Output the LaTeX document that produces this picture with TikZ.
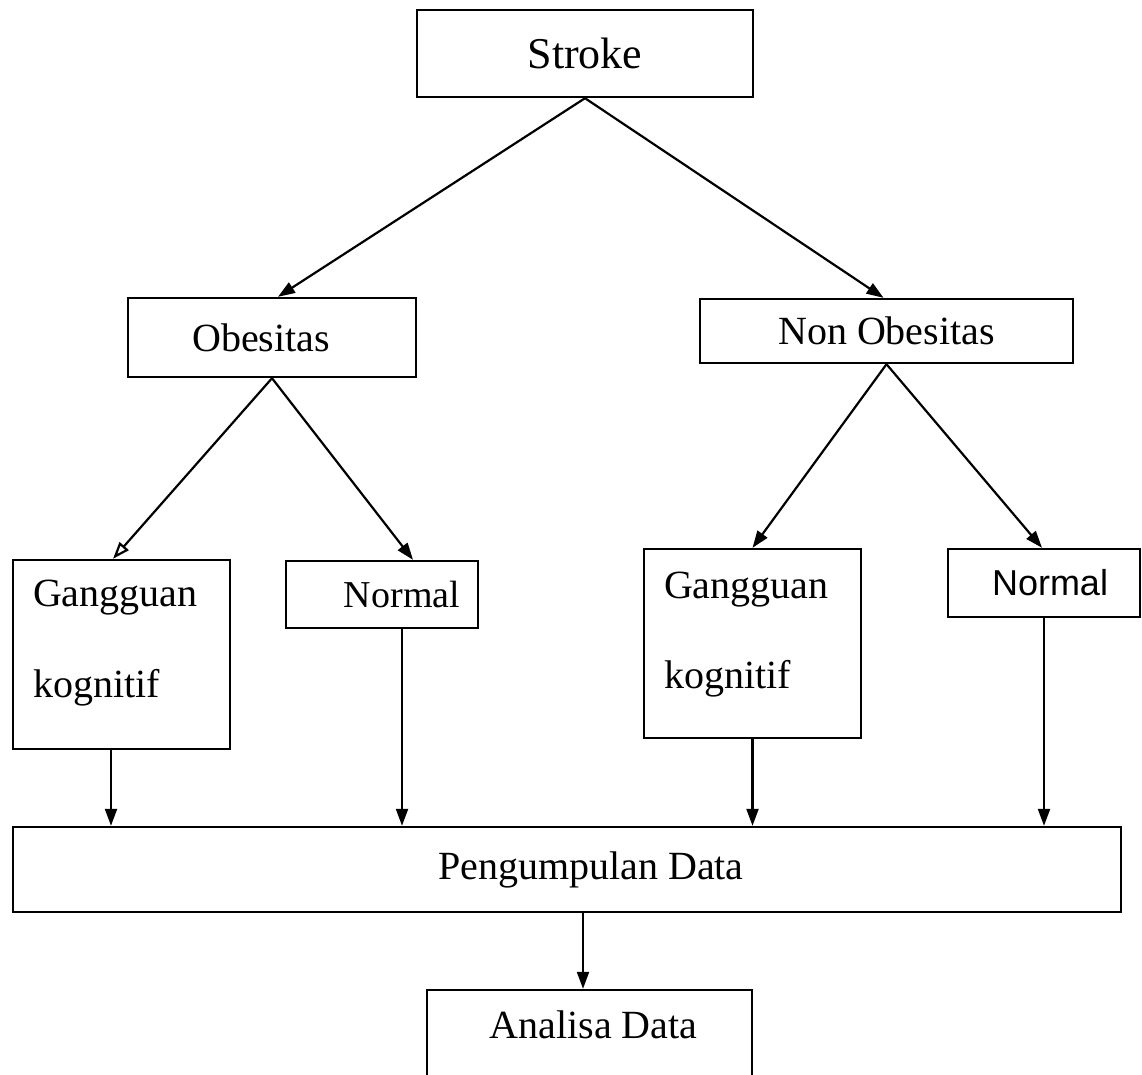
\documentclass[tikz,border=0pt]{standalone}
\usepackage{fontspec}
\setmainfont{Liberation Serif}
\newfontfamily\armfont{Liberation Sans}
\usetikzlibrary{arrows.meta}

\begin{document}
\begin{tikzpicture}[
  x=1pt, y=-1pt,
  >={Triangle[length=17pt, width=12pt]},
  box/.style={draw=black, line width=2.4pt, inner sep=0pt, align=center,
              font=\fontsize{40}{48}\selectfont},
  tallbox/.style={box, inner xsep=20pt, minimum width=217pt, minimum height=189pt},
  link/.style={->, line width=2.2pt, draw=black},
]
\clip (0,0) rectangle (1142,1074);
\fill[white] (0,0) rectangle (1142,1074);

% ---- top: stroke and the two groups ----
\node[box, minimum width=336pt, minimum height=87pt, font=\fontsize{44}{52}\selectfont]
      (stroke) at (585,53.5) {Stroke};
\node[box, minimum width=288pt, minimum height=79pt] (obes) at (272,337.5) {Obesitas\hspace*{22pt}};
\node[box, minimum width=373pt, minimum height=64pt] (nonobes) at (886.5,331) {Non Obesitas};

% ---- outcome boxes ----
\node[tallbox] (gk1) at (121.5,654.5)
      {\parbox[c][189pt][t]{177pt}{\raggedright\fontsize{40}{91}\selectfont\rule{0pt}{46pt}Gangguan\\kognitif}};
\node[box, minimum width=192pt, minimum height=67pt, font=\fontsize{38}{46}\selectfont]
      (norm1) at (382,594.5) {\hspace*{40pt}Normal};
\node[tallbox] (gk2) at (752.5,643.5)
      {\parbox[c][189pt][t]{177pt}{\raggedright\fontsize{40}{90}\selectfont\rule{0pt}{49pt}Gangguan\\kognitif}};
\node[box, minimum width=192pt, minimum height=68pt, font=\armfont\fontsize{36}{44}\selectfont]
      (norm2) at (1044,583) {\hspace*{12pt}Normal};

% ---- data collection and analysis ----
\node[box, minimum width=1108pt, minimum height=85pt] (peng) at (567,869.5) {\hspace*{48pt}Pengumpulan Data};
\node[box, minimum width=325pt, minimum height=100pt, text depth=30pt] (anal) at (589.5,1040) {\hspace*{8pt}Analisa Data};

% ---- arrows ----
\draw[link] (stroke.south) -- ([xshift=6pt]obes.north);
\draw[link] (stroke.south) -- ([xshift=-3pt]nonobes.north);
\draw[line width=2.2pt, -{Triangle[open, length=17pt, width=12pt]}] (obes.south) -- (gk1.north -| 113,0);
\draw[link] (obes.south) -- (norm1.north -| 413,0);
\draw[link] (nonobes.south) -- (gk2.north);
\draw[link] (nonobes.south) -- (norm2.north -| 1042,0);

\draw[link] (gk1.south -| 111,0) -- (peng.north -| 111,0);
\draw[link] (norm1.south -| 402,0) -- (peng.north -| 402,0);
\draw[link] (gk2.south) -- (gk2.south |- peng.north);
\draw[link] (norm2.south) -- (norm2.south |- peng.north);
\draw[link] (peng.south -| 583,0) -- (anal.north -| 583,0);
\end{tikzpicture}
\end{document}
